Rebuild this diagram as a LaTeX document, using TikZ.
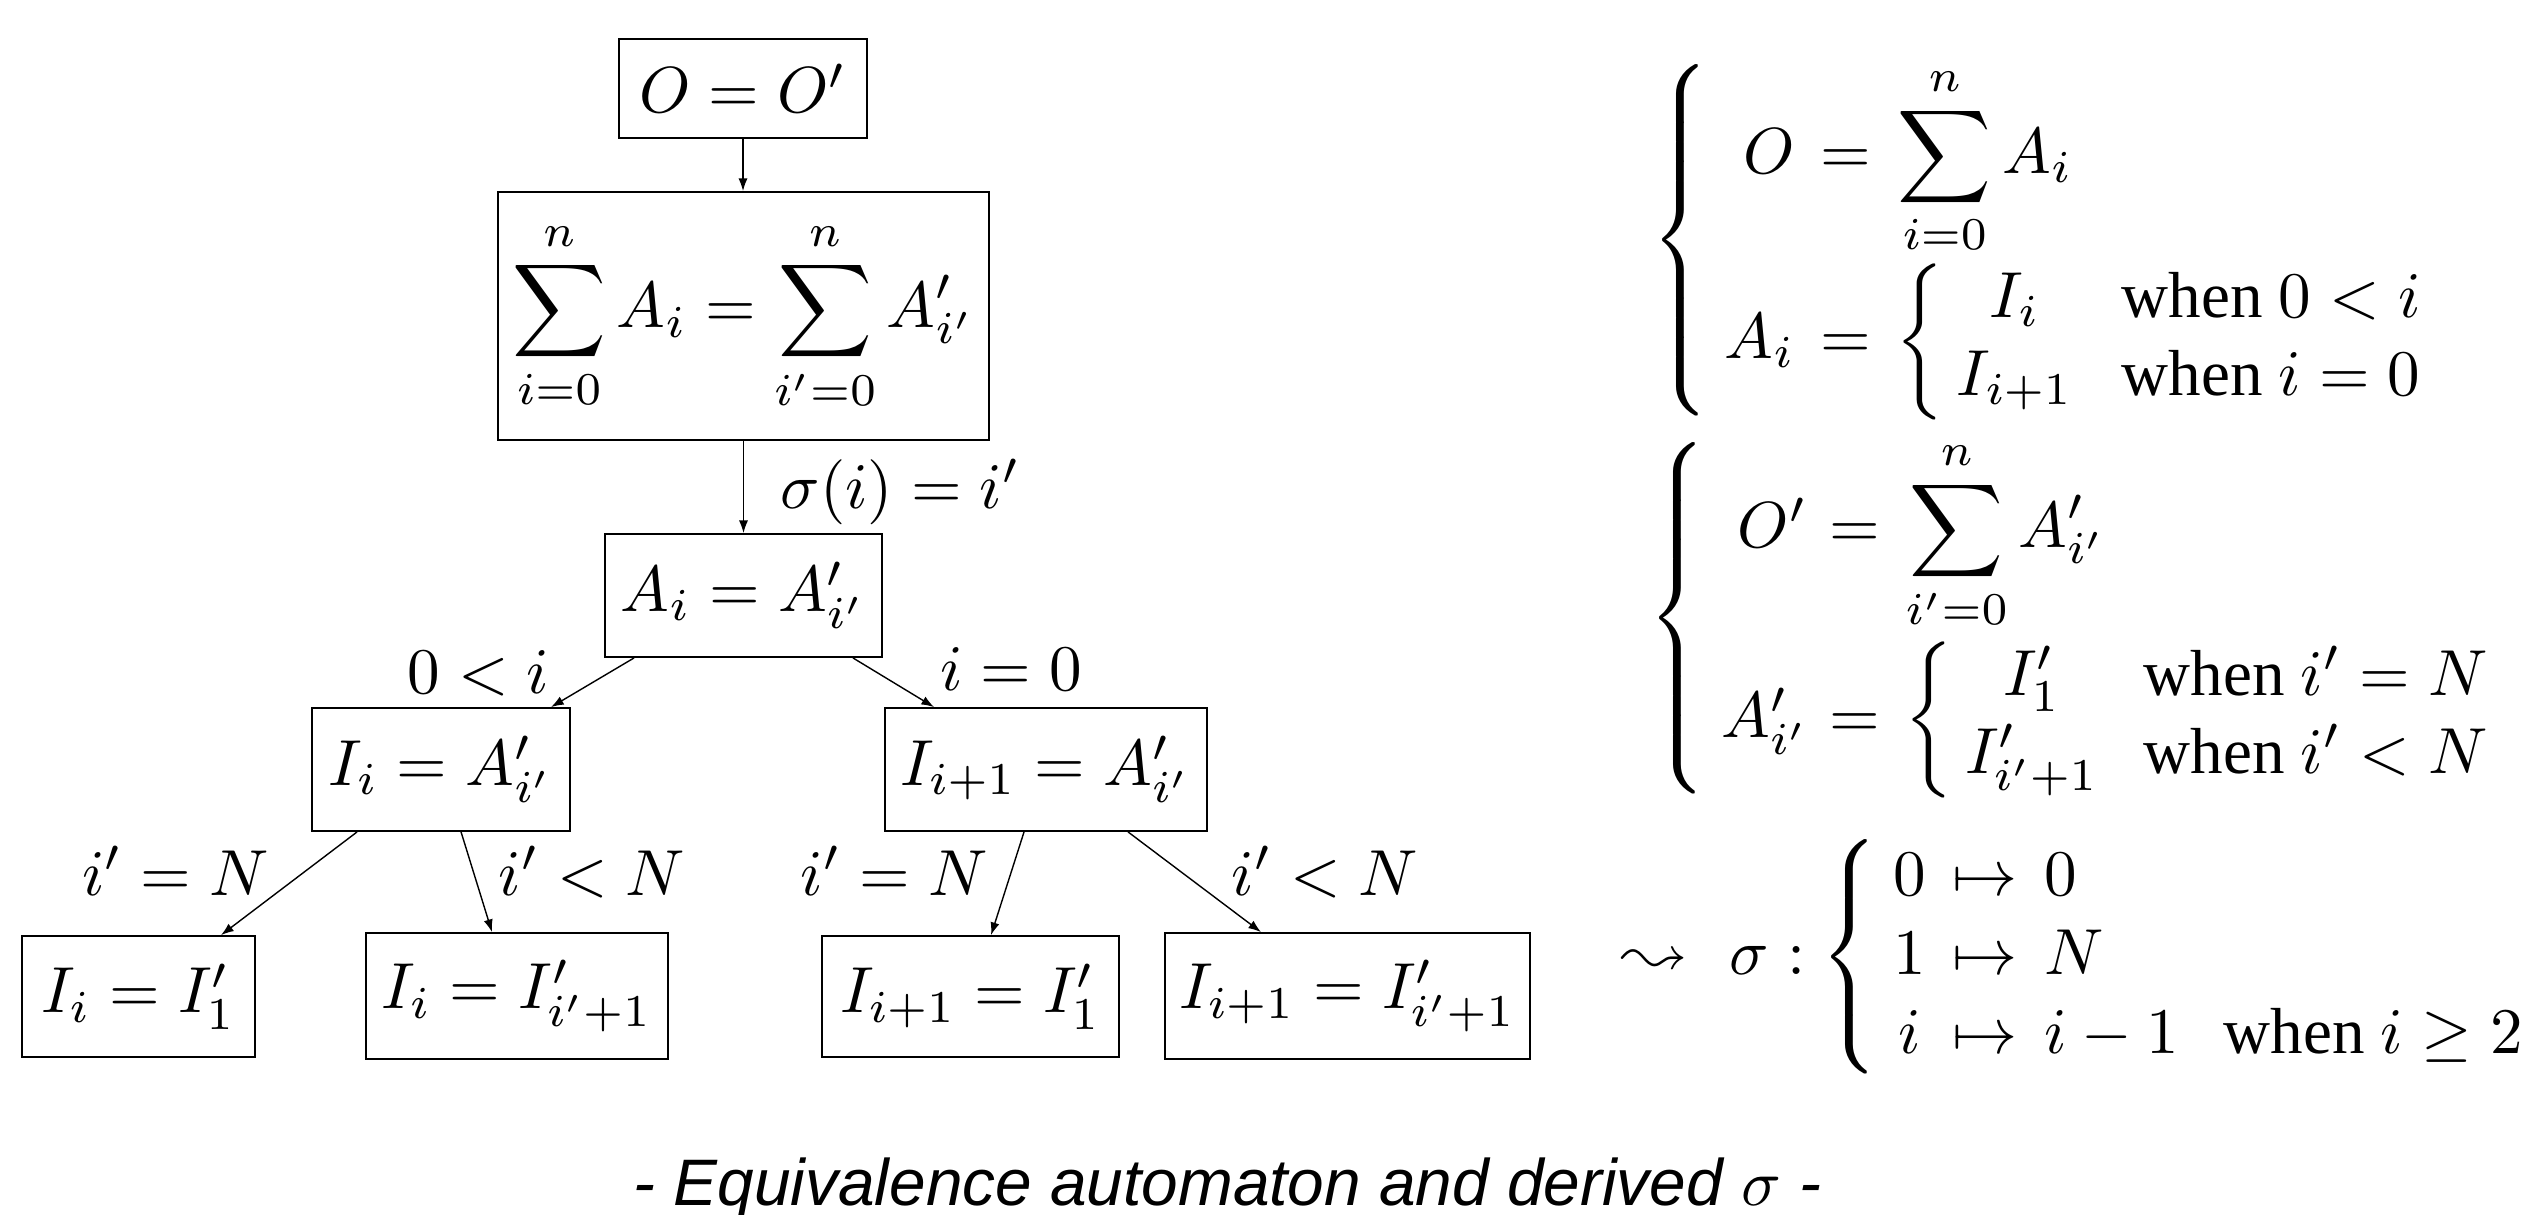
\documentclass[tikz,border=0pt]{standalone}
\usepackage{amsmath}
\usepackage{latexsym}
\usepackage{graphicx}
\usepackage[no-math]{fontspec}
\setmainfont{Liberation Serif}
\newfontfamily\capfont{Liberation Sans}
\usetikzlibrary{arrows.meta,calc}
\newcommand{\sx}[1]{\scalebox{1.85}{#1}}
\tikzset{
  bx/.style={draw, line width=0.5pt, inner sep=0pt},
  arr/.style={line width=0.4pt, -{Latex[length=3.6pt,width=2.6pt]}},
  lbl/.style={inner sep=0pt, anchor=base},
  lblw/.style={inner sep=0pt, anchor=base west},
  lble/.style={inner sep=0pt, anchor=base east},
  brc/.style={inner sep=0pt, anchor=center},
}
\begin{document}
\begin{tikzpicture}[x=0.01cm, y=-0.01cm, every node/.style={font=\fontsize{10}{12}\selectfont}]
\useasboundingbox (0,0) rectangle (2534,1214);
\fill[white] (0,0) rectangle (2534,1214);

% tree boxes
\node[bx, minimum width=2.48cm, minimum height=0.99cm] (top) at (743,88.5) {\sx{$O = O'$}};
\node[bx, minimum width=4.91cm, minimum height=2.48cm] (sum) at (743.5,316) {\sx{$\displaystyle\sum_{i=0}^{n}A_i = \sum_{i'=0}^{n}A'_{i'}$}};
\node[bx, minimum width=2.77cm, minimum height=1.23cm] (A) at (743.5,595.5) {\sx{$A_i = A'_{i'}$}};
\node[bx, minimum width=2.58cm, minimum height=1.23cm] (Ii) at (441,769.5) {\sx{$I_i = A'_{i'}$}};
\node[bx, minimum width=3.22cm, minimum height=1.23cm] (Ij) at (1046,769.5) {\sx{$I_{i+1} = A'_{i'}$}};
\node[bx, minimum width=2.33cm, minimum height=1.21cm] (b1) at (138.5,996.5) {\sx{$I_i = I'_1$}};
\node[bx, minimum width=3.02cm, minimum height=1.26cm] (b2) at (517,996) {\sx{$I_i = I'_{i'+1}$}};
\node[bx, minimum width=2.97cm, minimum height=1.21cm] (b3) at (970.5,996.5) {\sx{$I_{i+1} = I'_1$}};
\node[bx, minimum width=3.65cm, minimum height=1.26cm] (b4) at (1347.5,996) {\sx{$I_{i+1} = I'_{i'+1}$}};

% connectors
\draw[arr] (top.south) -- (top.south |- sum.north);
\draw[arr] (sum.south) -- (sum.south |- A.north);
\draw[arr] ($(A.south west)+(30,0)$) -- ($(Ii.north west)+(240,0)$);
\draw[arr] ($(A.south east)+(-30,0)$) -- ($(Ij.north west)+(50,0)$);
\draw[arr] ($(Ii.south west)+(46,0)$) -- ($(b1.north west)+(200,0)$);
\draw[arr] ($(Ii.south west)+(150,0)$) -- ($(b2.north west)+(127,0)$);
\draw[arr] ($(Ij.south west)+(140,0)$) -- ($(b3.north west)+(170,0)$);
\draw[arr] ($(Ij.south west)+(244,0)$) -- ($(b4.north west)+(97,0)$);

% labels
\node[lblw] (l0) at (780,508) {\sx{$\sigma(i) = i'$}};
\node[lbl] (l1) at (478.5,693) {\sx{$0 < i$}};
\node[lbl] (l2) at (1011,690) {\sx{$i = 0$}};
\node[lbl] (l3) at (175.5,895) {\sx{$i' = N$}};
\node[lbl] (l4) at (592,895) {\sx{$i' < N$}};
\node[lbl] (l5) at (894,895) {\sx{$i' = N$}};
\node[lbl] (l6) at (1325,895) {\sx{$i' < N$}};

% right block 1
\node[brc] (br1) at (1684.5,240) {\sx{$\left\{\vcenter{\hbox{\rule{0pt}{5.35em}}}\right.$}};
\node[lble] (r1a) at (1796,173) {\sx{$O$}};
\node[lbl] (r1b) at (1846,173) {\sx{$=$}};
\node[lblw] (r1c) at (1897,173) {\sx{$\displaystyle\sum_{i=0}^{n}A_i$}};
\node[lble] (r2a) at (1796,358) {\sx{$A_i$}};
\node[lbl] (r2b) at (1846,358) {\sx{$=$}};
\node[brc] (sb1) at (1920,342) {\sx{$\biggl\{$}};
\node[lbl] (r2c) at (2015,317) {\sx{$I_i$}};
\node[lbl] (r2d) at (2015,395) {\sx{$I_{i+1}$}};
\node[lblw] (r2e) at (2121,317) {\sx{when $0 < i$}};
\node[lblw] (r2f) at (2121,395) {\sx{when $i = 0$}};

% right block 2
\node[brc] (br2) at (1681,618) {\sx{$\left\{\vcenter{\hbox{\rule{0pt}{5.35em}}}\right.$}};
\node[lble] (s1a) at (1808,547) {\sx{$O'$}};
\node[lbl] (s1b) at (1855,547) {\sx{$=$}};
\node[lblw] (s1c) at (1905,547) {\sx{$\displaystyle\sum_{i'=0}^{n}A'_{i'}$}};
\node[lble] (s2a) at (1810,737) {\sx{$A'_{i'}$}};
\node[lbl] (s2b) at (1855,737) {\sx{$=$}};
\node[brc] (sb2) at (1929,720) {\sx{$\biggl\{$}};
\node[lbl] (s2c) at (2032,695) {\sx{$I'_1$}};
\node[lbl] (s2d) at (2032,773) {\sx{$I'_{i'+1}$}};
\node[lblw] (s2e) at (2143,695) {\sx{when $i' = N$}};
\node[lblw] (s2f) at (2143,773) {\sx{when $i' < N$}};

% sigma block
\node[lblw] (t0) at (1622,974) {\sx{$\leadsto$}};
\node[lblw] (t1) at (1729,974) {\sx{$\sigma :$}};
\node[brc] (br3) at (1853,957) {\sx{$\left\{\vcenter{\hbox{\rule{0pt}{3.55em}}}\right.$}};
\node[lbl] (u1a) at (1910,895) {\sx{$0$}};
\node[lbl] (u1b) at (1985,895) {\sx{$\mapsto$}};
\node[lblw] (u1c) at (2044,895) {\sx{$0$}};
\node[lbl] (u2a) at (1910,974) {\sx{$1$}};
\node[lbl] (u2b) at (1985,974) {\sx{$\mapsto$}};
\node[lblw] (u2c) at (2044,974) {\sx{$N$}};
\node[lbl] (u3a) at (1910,1053) {\sx{$i$}};
\node[lbl] (u3b) at (1985,1053) {\sx{$\mapsto$}};
\node[lblw] (u3c) at (2044,1053) {\sx{$i-1$}};
\node[lblw] (u3d) at (2223,1053) {\sx{when $i \geq 2$}};

% caption
\node[inner sep=0pt, anchor=base west] (cap) at (633,1205) {\scalebox{1.87}{\capfont\itshape - Equivalence automaton and derived $\sigma$ -}};
\end{tikzpicture}
\end{document}
